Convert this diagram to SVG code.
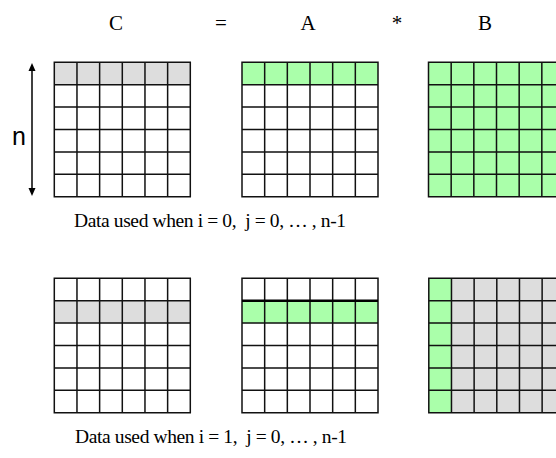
<svg xmlns="http://www.w3.org/2000/svg" width="556" height="458" viewBox="0 0 556 458">
<style>
.t{font-family:"Liberation Serif","Times New Roman",serif;font-size:21px;fill:#000;text-anchor:middle}
.cap{font-family:"Liberation Serif","Times New Roman",serif;font-size:19.5px;fill:#000;text-anchor:middle;white-space:pre}
.n{font-family:"Liberation Sans",Arial,sans-serif;font-size:25px;fill:#000;text-anchor:middle}
.g{fill:none;stroke:#111;stroke-width:1.5}
.gray{fill:#dddddd}
.green{fill:#aaffaa}
.white{fill:#ffffff}
</style>
<defs>
<path id="grid" class="g" d="M0 0H136V134.4H0Z M22.67 0V134.4 M45.33 0V134.4 M68 0V134.4 M90.67 0V134.4 M113.33 0V134.4 M0 22.4H136 M0 44.8H136 M0 67.2H136 M0 89.6H136 M0 112H136"/>
<marker id="ah" markerWidth="8" markerHeight="8" refX="4" refY="4" orient="auto-start-reverse" markerUnits="userSpaceOnUse">
<path d="M0 0.5L8 4L0 7.5Z" fill="#000"/>
</marker>
</defs>
<g id="titles">
<text class="t" x="116" y="30">C</text>
<text class="t" x="221" y="30">=</text>
<text class="t" x="308" y="30">A</text>
<text class="t" x="397" y="30">*</text>
<text class="t" x="485" y="30">B</text>
</g>
<g id="connectors">
<line x1="32" y1="67" x2="32" y2="192" stroke="#000" stroke-width="1.5" marker-start="url(#ah)" marker-end="url(#ah)"/>
</g>
<g id="n-label"><text class="n" x="19" y="145">n</text></g>
<g id="C0" transform="translate(54.3,62.3)">
<rect class="white" width="136" height="134.4"/>
<rect class="gray" width="136" height="22.4"/>
<use href="#grid"/>
</g>
<g id="A0" transform="translate(242,62.3)">
<rect class="white" width="136" height="134.4"/>
<rect class="green" width="136" height="22.4"/>
<use href="#grid"/>
</g>
<g id="B0" transform="translate(428.5,62.3)">
<rect class="green" width="136" height="134.4"/>
<use href="#grid"/>
</g>
<g id="caption0"><text class="cap" x="210" y="227" textLength="272" lengthAdjust="spacing">Data used when i = 0,  j = 0, … , n-1</text></g>
<g id="C1" transform="translate(54.3,278.3)">
<rect class="white" width="136" height="134.4"/>
<rect class="gray" y="22.4" width="136" height="22.4"/>
<use href="#grid"/>
</g>
<g id="A1" transform="translate(242,278.3)">
<rect class="white" width="136" height="134.4"/>
<rect class="green" y="22.4" width="136" height="22.4"/>
<use href="#grid"/>
<line x1="0" y1="22.4" x2="136" y2="22.4" stroke="#000" stroke-width="2.5"/>
</g>
<g id="B1" transform="translate(428.8,278.3)">
<rect class="gray" width="136" height="134.4"/>
<rect class="green" width="22.67" height="134.4"/>
<use href="#grid"/>
</g>
<g id="caption1"><text class="cap" x="211" y="443" textLength="272" lengthAdjust="spacing">Data used when i = 1,  j = 0, … , n-1</text></g>
</svg>
